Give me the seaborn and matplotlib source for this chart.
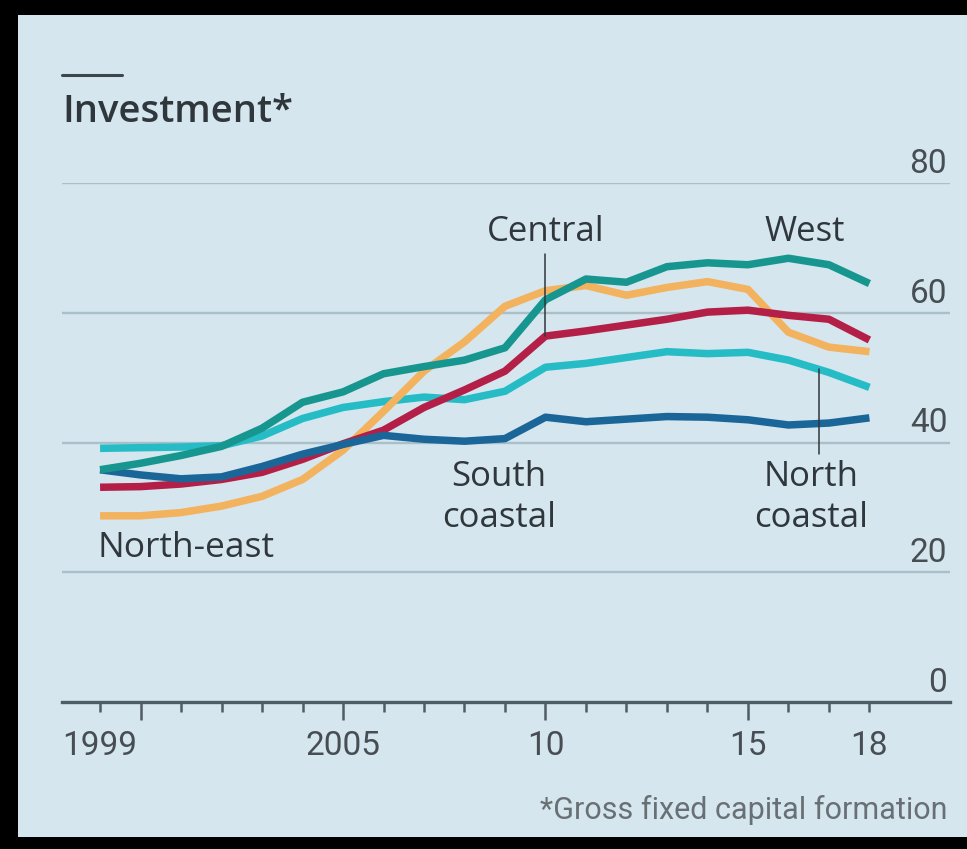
import matplotlib
matplotlib.use("Agg")
import matplotlib.pyplot as plt
from matplotlib.patches import Rectangle
from matplotlib.lines import Line2D
from matplotlib.transforms import ScaledTranslation
import numpy as np
import pandas as pd
import seaborn as sns

# ---- data -------------------------------------------------------------
years = list(range(1999, 2019))

west = [35.8, 36.8, 38.0, 39.4, 42.2, 46.2, 47.8, 50.6, 51.7, 52.7,
        54.6, 62.0, 65.2, 64.7, 67.1, 67.7, 67.4, 68.4, 67.4, 64.5]
central = [33.1, 33.2, 33.6, 34.3, 35.4, 37.4, 39.8, 41.9, 45.4, 48.1,
           51.0, 56.4, 57.2, 58.1, 59.0, 60.1, 60.4, 59.6, 59.0, 55.8]
north_east = [28.7, 28.7, 29.2, 30.2, 31.7, 34.3, 38.8, 44.8, 51.0, 55.5,
              61.0, 63.4, 64.2, 62.7, 63.9, 64.8, 63.6, 57.0, 54.7, 54.0]
north_coastal = [39.1, 39.2, 39.3, 39.5, 41.0, 43.7, 45.4, 46.3, 47.0, 46.6,
                 47.9, 51.6, 52.2, 53.1, 54.0, 53.7, 53.9, 52.7, 50.8, 48.5]
south_coastal = [35.8, 35.0, 34.4, 34.7, 36.3, 38.2, 39.7, 41.1, 40.5, 40.2,
                 40.6, 43.9, 43.2, 43.6, 44.0, 43.9, 43.5, 42.7, 43.0, 43.8]

regions = ["North coastal", "North-east", "Central", "South coastal", "West"]
series = [north_coastal, north_east, central, south_coastal, west]

y_ticks = [0, 20, 40, 60, 80]
x_tick_pos = [1999, 2000, 2005, 2010, 2015, 2018]
x_tick_labels = ["1999", "", "2005", "10", "15", "18"]

colors = {
    "West": "#17968f",
    "North coastal": "#25bcc6",
    "South coastal": "#1b6698",
    "Central": "#b41f48",
    "North-east": "#f2b25e",
}

df = pd.DataFrame({
    "year": np.tile(years, len(regions)),
    "value": np.concatenate(series),
    "region": np.repeat(regions, len(years)),
})

# ---- style ------------------------------------------------------------
sns.set_theme(style="white")
plt.rcParams["font.family"] = ["Open Sans", "DejaVu Sans"]

BG = "#d5e6ee"
GRID = "#a9bfca"
AXIS = "#4f5d66"
TEXT = "#2f373c"
TICK = "#474e53"
NUM_FONT = ["Roboto", "DejaVu Sans"]

W, H = 967, 849
fig = plt.figure(figsize=(W / 100, H / 100), dpi=100, facecolor="black")
fig.add_artist(Rectangle((18 / W, 12 / H), 1 - 18 / W, 1 - 27 / H,
                         transform=fig.transFigure, facecolor=BG,
                         edgecolor="none", zorder=0))

ax = fig.add_axes([62 / W, (H - 702) / H, (950 - 62) / W, (702 - 183) / H])
ax.set_facecolor("none")

sns.lineplot(data=df, x="year", y="value", hue="region", hue_order=regions,
             palette=colors, linewidth=5.4, legend=False, ax=ax,
             solid_capstyle="butt", solid_joinstyle="round")

ax.set_xlim(1998.06, 2019.99)
ax.set_ylim(0, 80)
ax.set_xlabel("")
ax.set_ylabel("")

for side in ["top", "left", "right"]:
    ax.spines[side].set_visible(False)
ax.spines["bottom"].set_color(AXIS)
ax.spines["bottom"].set_linewidth(2.4)
ax.spines["bottom"].set_zorder(5)

# horizontal gridlines
for v in y_ticks[1:]:
    ax.axhline(v, color=GRID, lw=1.7, zorder=0.5)

# y labels sit above their gridlines at the right edge
ax.set_yticks(y_ticks)
ax.yaxis.tick_right()
ax.tick_params(axis="y", length=0, pad=-2, labelsize=24, labelcolor=TICK)
for lab in ax.get_yticklabels():
    lab.set_family(NUM_FONT)
    lab.set_horizontalalignment("right")
    lab.set_verticalalignment("bottom")
    lab.set_transform(lab.get_transform() +
                      ScaledTranslation(0, 3 / 100, fig.dpi_scale_trans))

# x ticks: every year short, 2000/2005/2010/2015 long
ax.set_xticks(x_tick_pos)
ax.set_xticklabels(x_tick_labels)
ax.set_xticks([y for y in years if y not in x_tick_pos], minor=True)
ax.tick_params(axis="x", which="both", bottom=True, top=False)
ax.tick_params(axis="x", which="major", direction="out", length=13,
               width=1.8, color=AXIS, labelsize=24, labelcolor=TICK, pad=7)
ax.tick_params(axis="x", which="minor", direction="out", length=7.5,
               width=1.8, color=AXIS)
for lab in ax.get_xticklabels():
    lab.set_family(NUM_FONT)
for t, pos in zip(ax.xaxis.get_major_ticks(), x_tick_pos):
    if pos in (1999, 2018):
        t.tick1line.set_markersize(7.5)

# series labels
lab_kw = dict(fontsize=25, color=TEXT, ha="center", va="center")
ax.text(2010, 72.4, "Central", **lab_kw)
ax.text(2016.4, 72.4, "West", **lab_kw)
ax.text(2008.85, 31.5, "South\ncoastal", linespacing=1.28, **lab_kw)
ax.text(2016.55, 31.5, "North\ncoastal", linespacing=1.28, **lab_kw)
ax.text(1998.93, 23.7, "North-east", fontsize=25.5, color=TEXT,
        ha="left", va="center")

# leader lines
ax.plot([2010, 2010], [central[years.index(2010)], 69.0], color=TEXT,
        lw=1.1, zorder=6)
nc_x = 2016.75
nc_y = np.interp(nc_x, years, north_coastal)
ax.plot([nc_x, nc_x], [nc_y, 38.2], color=TEXT, lw=1.1, zorder=6)

# title, rule and footnote
fig.add_artist(Line2D([62 / W, 122 / W], [1 - 75 / H, 1 - 75 / H],
                      transform=fig.transFigure, color="#3d464c", lw=2.2))
fig.text(62 / W, 1 - 112 / H, "Investment*", fontsize=27.5,
         fontweight="semibold", color=TEXT, ha="left", va="center")
fig.text(948 / W, 1 - 810 / H, "*Gross fixed capital formation",
         fontsize=22, color="#697075", ha="right", va="center",
         family=NUM_FONT)

fig.savefig("out.png", dpi=100, facecolor=fig.get_facecolor())
